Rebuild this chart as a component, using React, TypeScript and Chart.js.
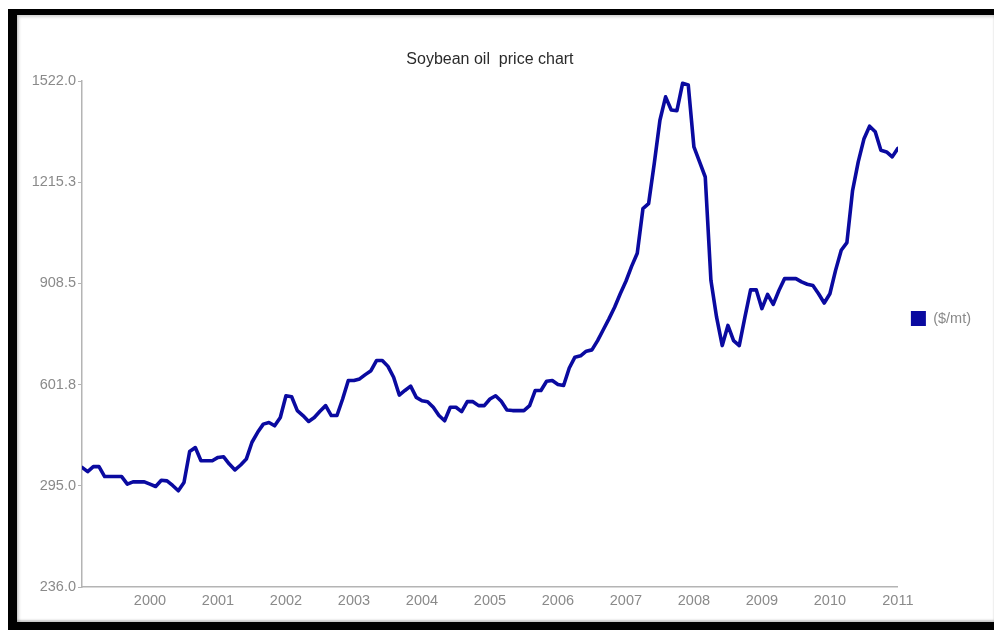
import { useEffect, useRef } from "react";
import { Chart, registerables } from "chart.js";

Chart.register(...registerables);

const chartTitle = "Soybean oil  price chart";
const seriesLabel = "($/mt)";
const startYear = 1999;
const endYear = 2011;
const yearTicks = [2000, 2001, 2002, 2003, 2004, 2005, 2006, 2007, 2008, 2009, 2010, 2011];
const yearLabels = ["2000", "2001", "2002", "2003", "2004", "2005", "2006", "2007", "2008", "2009", "2010", "2011"];
const yTickValues = [-11.75, 295, 601.75, 908.5, 1215.25, 1522];
const yTickLabels = ["236.0", "295.0", "601.8", "908.5", "1215.3", "1522.0"];

// monthly prices, Jan 1999 .. Jan 2011
const prices = [
  351, 338, 353, 353, 323, 323, 323, 323, 300, 307, 307, 307,
  300, 293, 312, 310, 296, 280, 305, 399, 411, 371, 371, 371,
  381, 383, 361, 343, 358, 376, 427, 457, 482, 487, 477, 502,
  568, 565, 523, 508, 490, 502, 521, 538, 508, 508, 558, 614,
  614, 619, 632, 644, 675, 675, 657, 624, 570, 584, 597, 563,
  553, 550, 533, 508, 492, 533, 533, 520, 550, 550, 538, 538,
  558, 568, 551, 525, 523, 523, 523, 538, 584, 584, 612, 614,
  602, 599, 652, 685, 689, 703, 707, 735, 768, 801, 836, 877,
  915, 960, 1000, 1135, 1150, 1272, 1403, 1474, 1434, 1432, 1515, 1510,
  1322, 1277, 1231, 918, 806, 720, 781, 735, 720, 806, 889, 889,
  832, 875, 845, 887, 923, 923, 923, 913, 906, 902, 877, 849,
  877, 948, 1009, 1032, 1190, 1277, 1346, 1385, 1368, 1312, 1307, 1292,
  1318,
];

const lineColor = "rgb(10,10,160)";
const axisColor = "#b4b4b4";
const labelColor = "#8a8a8a";
const fontFamily = "'Liberation Sans', Arial, Helvetica, sans-serif";

export default function App() {
  const ref = useRef<HTMLCanvasElement | null>(null);

  useEffect(() => {
    if (!ref.current) return;
    const n = prices.length - 1;
    const points = prices.map((v, i) => ({ x: startYear + (i * (endYear - startYear)) / n, y: v }));
    const chart = new Chart(ref.current, {
      type: "line",
      data: {
        datasets: [
          {
            label: seriesLabel,
            data: points,
            borderColor: lineColor,
            backgroundColor: lineColor,
            borderWidth: 3.6,
            borderJoinStyle: "round",
            borderCapStyle: "round",
            pointRadius: 0,
            tension: 0,
            fill: false,
          },
        ],
      },
      options: {
        responsive: false,
        animation: false,
        layout: { padding: { left: 0, right: 13, top: 0, bottom: 0 } },
        plugins: {
          title: {
            display: true,
            text: chartTitle,
            fullSize: false,
            color: "#2a2a2a",
            font: { family: fontFamily, size: 16, weight: "normal" },
            padding: { top: 35.4, bottom: 11.4 },
          },
          legend: {
            position: "right",
            labels: {
              color: labelColor,
              font: { family: fontFamily, size: 14.5 },
              boxWidth: 15,
              boxHeight: 15,
              padding: 13,
              generateLabels: () => [
                {
                  text: seriesLabel,
                  fillStyle: lineColor,
                  strokeStyle: lineColor,
                  lineWidth: 0,
                  hidden: false,
                  datasetIndex: 0,
                  fontColor: labelColor,
                },
              ],
            },
          },
          tooltip: { enabled: false },
        },
        scales: {
          x: {
            type: "linear",
            min: startYear,
            max: endYear,
            grid: { display: false, drawTicks: false },
            border: { display: true, color: axisColor, width: 1.5 },
            afterBuildTicks: (scale: any) => {
              scale.ticks = yearTicks.map((v) => ({ value: v }));
            },
            afterFit: (scale: any) => {
              scale.height = 35;
            },
            ticks: {
              autoSkip: false,
              maxRotation: 0,
              padding: 5,
              color: labelColor,
              font: { family: fontFamily, size: 14.5 },
              callback: (_v: any, i: number) => yearLabels[i],
            },
          },
          y: {
            type: "linear",
            min: yTickValues[0],
            max: yTickValues[yTickValues.length - 1],
            grid: {
              display: true,
              drawOnChartArea: false,
              drawTicks: true,
              tickLength: 4,
              color: axisColor,
            },
            border: { display: true, color: axisColor, width: 1.5 },
            afterBuildTicks: (scale: any) => {
              scale.ticks = yTickValues.map((v) => ({ value: v }));
            },
            afterFit: (scale: any) => {
              scale.width = 65;
            },
            ticks: {
              padding: 2,
              color: labelColor,
              font: { family: fontFamily, size: 14.5 },
              callback: (_v: any, i: number) => yTickLabels[i],
            },
          },
        },
      },
    });
    return () => chart.destroy();
  }, []);

  return (
    <div
      style={{
        position: "absolute",
        left: 8,
        top: 9,
        width: 986,
        height: 621,
        boxSizing: "border-box",
        borderTop: "6px solid #000",
        borderLeft: "9px solid #000",
        borderBottom: "8px solid #000",
        background: "#fff",
        boxShadow: "inset 2px 2px 3px rgba(0,0,0,0.18), inset 0 -2px 2px rgba(0,0,0,0.22)",
      }}
    >
      <canvas ref={ref} width={977} height={607} style={{ display: "block", width: 977, height: 607 }} />
    </div>
  );
}
